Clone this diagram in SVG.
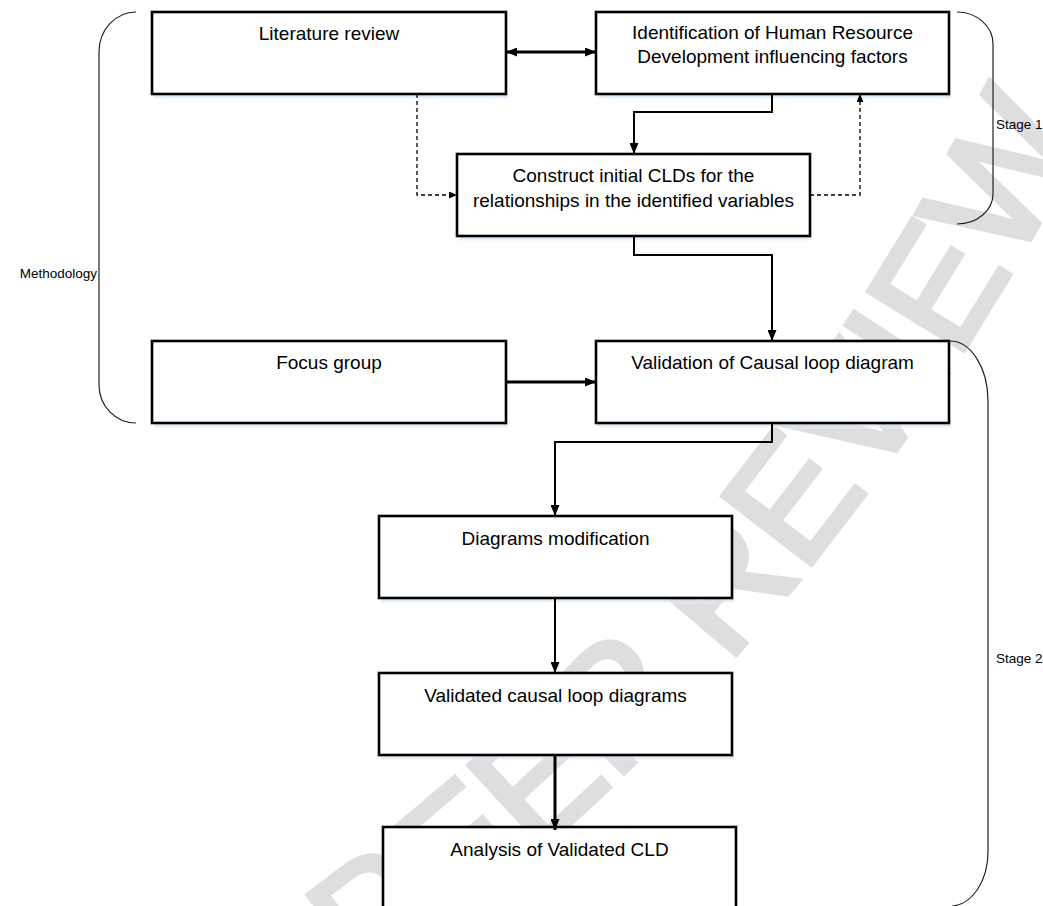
<svg xmlns="http://www.w3.org/2000/svg" width="1043" height="906" viewBox="0 0 1043 906">
  <style>
    .box { fill: #ffffff; stroke: #000000; stroke-width: 2.6; }
    .shadow { fill: url(#sh); }
    .lbl { font-family: "Liberation Sans", Arial, sans-serif; font-size: 19px; fill: #000000; text-anchor: middle; }
    .side { font-family: "Liberation Sans", Arial, sans-serif; font-size: 13.5px; fill: #000000; }
    .conn { fill: none; stroke: #000000; stroke-width: 2; }
    .thick { stroke-width: 3; }
    .dash { fill: none; stroke: #000000; stroke-width: 1.3; stroke-dasharray: 4 3; }
    .brace { fill: none; stroke: #222222; stroke-width: 1.2; }
    .wm { font-family: "Liberation Sans", Arial, sans-serif; font-size: 163px; font-weight: normal; fill: #dedede; stroke: #dedede; stroke-width: 5; stroke-linejoin: miter; text-anchor: middle; }
  </style>
  <defs>
    <linearGradient id="sh" x1="0" y1="0" x2="0" y2="1">
      <stop offset="0" stop-color="#c3d7ec" stop-opacity="0.9"/>
      <stop offset="1" stop-color="#ffffff" stop-opacity="0"/>
    </linearGradient>
    <marker id="arr" markerUnits="userSpaceOnUse" markerWidth="11" markerHeight="9" refX="11" refY="4.5" orient="auto-start-reverse">
      <path d="M0,0 L11,4.5 L0,9 z" fill="#000000"/>
    </marker>
    <marker id="arrS" markerUnits="userSpaceOnUse" markerWidth="8" markerHeight="7" refX="8" refY="3.5" orient="auto">
      <path d="M0,0 L8,3.5 L0,7 z" fill="#000000"/>
    </marker>
    <path id="wmPath" d="M322,1022 Q817,682 1111,87"/>
  </defs>

  <rect width="1043" height="906" fill="#ffffff"/>

  <g id="watermark">
    <text class="wm"><textPath href="#wmPath" startOffset="50%">PEER REVIEW</textPath></text>
  </g>

  <g id="node-literature">
    <rect class="shadow" x="154" y="95.5" width="354" height="5"/>
    <rect class="box" x="152" y="12" width="354" height="82"/>
    <text class="lbl" x="329" y="40">Literature review</text>
  </g>
  <g id="node-identification">
    <rect class="shadow" x="598" y="95.5" width="353" height="5"/>
    <rect class="box" x="596" y="12" width="353" height="82"/>
    <text class="lbl" x="772.5" y="39">Identification of Human Resource</text>
    <text class="lbl" x="772.5" y="63">Development influencing factors</text>
  </g>
  <g id="node-construct">
    <rect class="shadow" x="459" y="237.5" width="353" height="5"/>
    <rect class="box" x="457" y="154" width="353" height="82"/>
    <text class="lbl" x="633.5" y="182">Construct initial CLDs for the</text>
    <text class="lbl" x="633.5" y="207">relationships in the identified variables</text>
  </g>
  <g id="node-focus">
    <rect class="shadow" x="154" y="424.5" width="354" height="5"/>
    <rect class="box" x="152" y="341" width="354" height="82"/>
    <text class="lbl" x="329" y="369">Focus group</text>
  </g>
  <g id="node-validation">
    <rect class="shadow" x="598" y="424.5" width="353" height="5"/>
    <rect class="box" x="596" y="341" width="353" height="82"/>
    <text class="lbl" x="772.5" y="369">Validation of Causal loop diagram</text>
  </g>
  <g id="node-modification">
    <rect class="shadow" x="381" y="599.5" width="353" height="5"/>
    <rect class="box" x="379" y="516" width="353" height="82"/>
    <text class="lbl" x="555.5" y="545">Diagrams modification</text>
  </g>
  <g id="node-validated">
    <rect class="shadow" x="381" y="756.5" width="353" height="5"/>
    <rect class="box" x="379" y="673" width="353" height="82"/>
    <text class="lbl" x="555.5" y="702">Validated causal loop diagrams</text>
  </g>
  <g id="node-analysis">
    <rect class="box" x="383" y="827" width="353" height="110"/>
    <text class="lbl" x="559.5" y="856">Analysis of Validated CLD</text>
  </g>

  <g id="connectors">
    <path class="conn thick" d="M506,52 H596" marker-start="url(#arr)" marker-end="url(#arr)"/>
    <path class="conn" d="M772,94 V112 H634 V154" marker-end="url(#arr)"/>
    <path class="dash" d="M417,94 V195 H457" marker-end="url(#arrS)"/>
    <path class="dash" d="M810,195 H860 V94" marker-end="url(#arrS)"/>
    <path class="conn" d="M634,236 V255 H772 V341" marker-end="url(#arr)"/>
    <path class="conn thick" d="M506,382 H596" marker-end="url(#arr)"/>
    <path class="conn" d="M772,423 V442 H555 V516" marker-end="url(#arr)"/>
    <path class="conn" d="M555,598 V673" marker-end="url(#arr)"/>
    <path class="conn thick" d="M555,755 V830" marker-end="url(#arr)"/>
  </g>

  <g id="brace-methodology">
    <path class="brace" d="M136,12 A37,40 0 0 0 99,52 L99,385 A37,38 0 0 0 136,423"/>
    <text class="side" x="97" y="278" text-anchor="end">Methodology</text>
  </g>
  <g id="brace-stage1">
    <path class="brace" d="M957,12 A36,32 0 0 1 993,44 L993,194 A36,30 0 0 1 957,224"/>
    <text class="side" x="996" y="129">Stage 1</text>
  </g>
  <g id="brace-stage2">
    <path class="brace" d="M950,341 A38,60 0 0 1 988,401 L988,852 A38,54 0 0 1 952,906"/>
    <text class="side" x="996" y="663">Stage 2</text>
  </g>
</svg>
